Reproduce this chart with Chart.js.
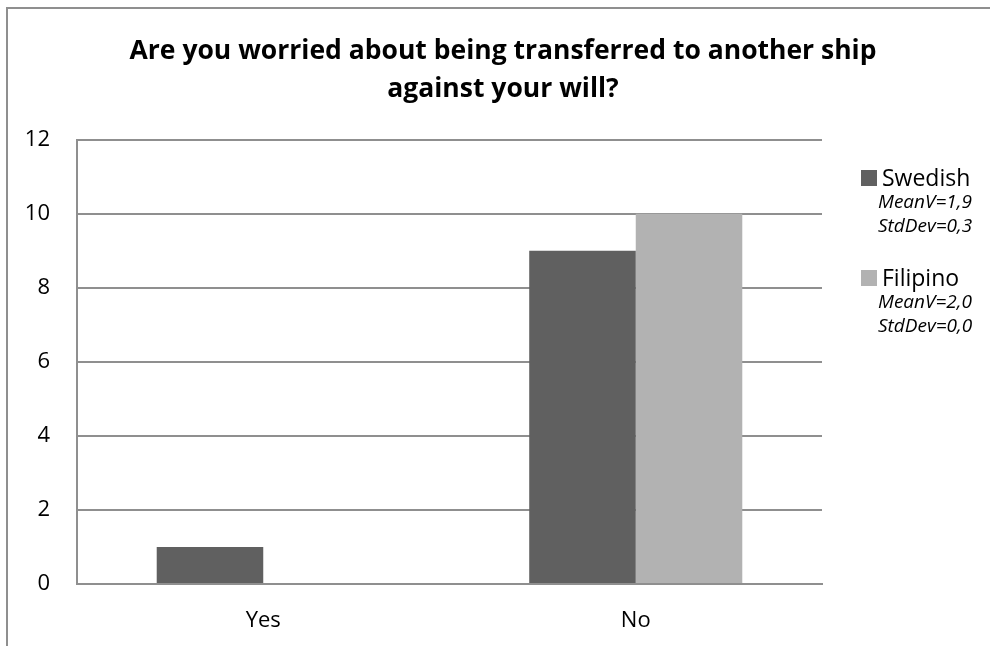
<!DOCTYPE html>
<html>
<head>
<meta charset="utf-8">
<script src="https://cdn.jsdelivr.net/npm/chart.js@4.4.1/dist/chart.umd.min.js"></script>
<style>
    html, body { margin: 0; padding: 0; background: #ffffff; }
    #wrap { width: 990px; height: 646px; position: relative; }
</style>
</head>
<body>
<div id="wrap"><canvas id="transfer-worry"></canvas></div>
<script>
// Survey answers per nationality
const answers = ["Yes", "No"];
const groups = ["Swedish", "Filipino"];
const swedishCounts = [1, 9];
const filipinoCounts = [0, 10];
const groupStats = [
    ["MeanV=1,9", "StdDev=0,3"],
    ["MeanV=2,0", "StdDev=0,0"]
];
const groupColors = ["#606060", "#b2b2b2"];
const yTicks = [0, 2, 4, 6, 8, 10, 12];

const FONT = "'Open Sans', sans-serif";
const LINE = "#8f8f8f";

// Frame round the whole figure (only left and top edges show)
const framePlugin = {
    id: "frame",
    beforeDraw(chart) {
        const ctx = chart.ctx;
        ctx.save();
        ctx.strokeStyle = LINE;
        ctx.lineWidth = 2;
        ctx.beginPath();
        ctx.moveTo(7, chart.height);
        ctx.lineTo(7, 8);
        ctx.lineTo(chart.width, 8);
        ctx.stroke();
        ctx.restore();
    }
};

// Legend on the right with the mean / std dev lines under each entry
const statLegend = {
    id: "statLegend",
    afterDraw(chart) {
        const ctx = chart.ctx;
        const x0 = chart.chartArea.right + 39;
        const tops = [170, 270];
        ctx.save();
        ctx.textAlign = "left";
        ctx.textBaseline = "alphabetic";
        chart.data.datasets.forEach((ds, i) => {
            const y = tops[i];
            ctx.fillStyle = ds.backgroundColor;
            ctx.fillRect(x0, y, 16, 16);
            ctx.fillStyle = "#000000";
            ctx.font = "23px " + FONT;
            ctx.fillText(ds.label, x0 + 21, y + 16);
            ctx.font = "italic 19px " + FONT;
            groupStats[i].forEach((s, j) => {
                ctx.fillText(s, x0 + 17, y + 38 + j * 24);
            });
        });
        ctx.restore();
    }
};

new Chart("transfer-worry", {
    type: "bar",
    data: {
        labels: answers,
        datasets: [
            { label: groups[0], data: swedishCounts, backgroundColor: groupColors[0] },
            { label: groups[1], data: filipinoCounts, backgroundColor: groupColors[1] }
        ]
    },
    options: {
        responsive: true,
        maintainAspectRatio: false,
        animation: false,
        layout: { padding: { left: 16, right: 0, top: 0, bottom: 0 } },
        datasets: {
            bar: { categoryPercentage: 0.572, barPercentage: 1.0, borderWidth: 0 }
        },
        plugins: {
            legend: { display: false },
            tooltip: { enabled: false },
            title: {
                display: true,
                text: ["Are you worried about being transferred to another ship", "against your will?"],
                color: "#000000",
                font: { family: FONT, size: 26.5, weight: "bold", lineHeight: 1.43 },
                padding: { top: 33, bottom: 31 }
            }
        },
        scales: {
            x: {
                grid: { display: false, drawTicks: false },
                border: { display: true, color: LINE, width: 2 },
                ticks: { color: "#000000", font: { family: FONT, size: 22 }, padding: 24 },
                afterFit(scale) { scale.height = 62; }
            },
            y: {
                min: 0,
                max: 12,
                afterBuildTicks(scale) { scale.ticks = yTicks.map(v => ({ value: v })); },
                grid: { color: LINE, lineWidth: 2, drawTicks: false },
                border: { display: true, color: LINE, width: 2 },
                ticks: { color: "#000000", font: { family: FONT, size: 22 }, padding: 27 },
                afterFit(scale) { scale.width = 61; }
            },
            // empty column on the right that holds the legend
            legendSpace: {
                position: "right",
                grid: { display: false, drawTicks: false },
                border: { display: false },
                ticks: { display: false },
                afterFit(scale) { scale.width = 168; }
            }
        }
    },
    plugins: [framePlugin, statLegend]
});
</script>
</body>
</html>
